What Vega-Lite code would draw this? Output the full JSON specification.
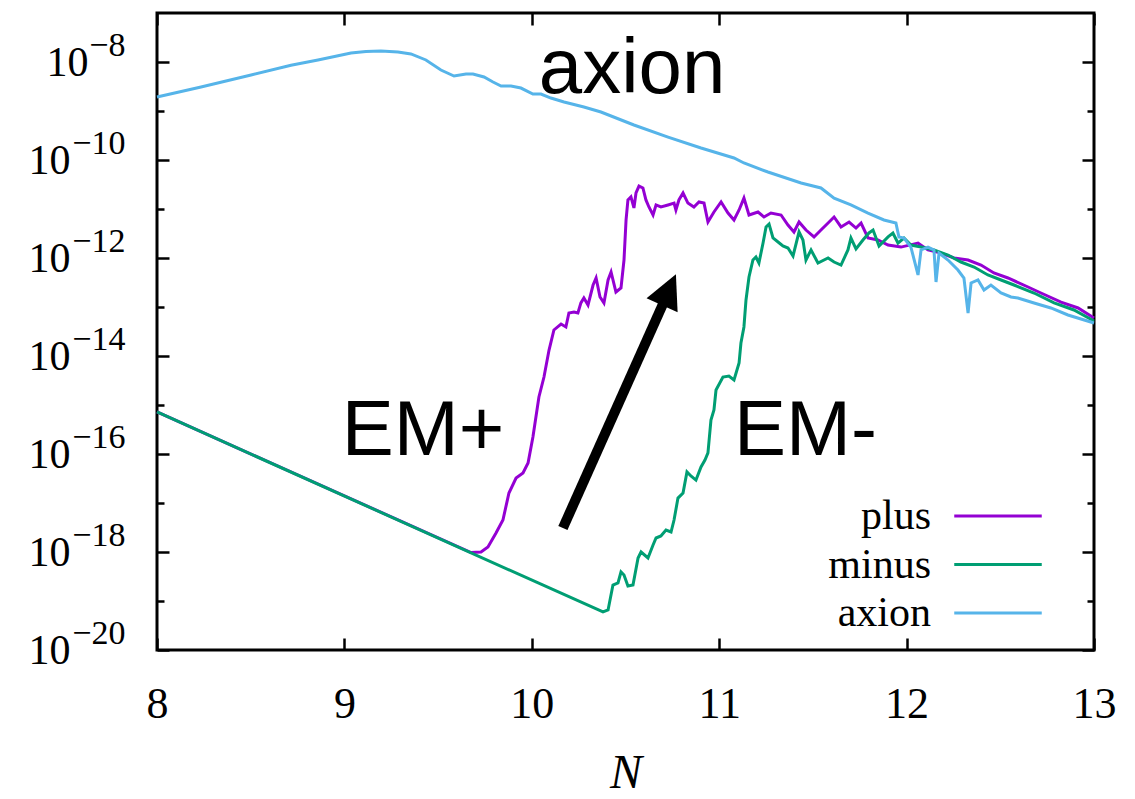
{
  "$schema": "https://vega.github.io/schema/vega-lite/v6.json",
  "width": 937,
  "height": 637,
  "autosize": {"type": "none"},
  "padding": {"left": 157, "top": 13, "right": 41, "bottom": 149},
  "background": "white",
  "config": {
    "view": {"stroke": "black", "strokeWidth": 3},
    "axis": {"grid": false, "domain": false, "labelFont": "Liberation Serif, Times New Roman, DejaVu Serif, serif", "labelColor": "black", "tickColor": "black", "tickWidth": 2.5, "titleFont": "Liberation Serif, Times New Roman, DejaVu Serif, serif", "titleColor": "black", "labelFlush": false, "labelOverlap": false}
  },
  "datasets": {
    "curves": [
      {"s": "plus", "N": 8.0, "v": 7.2e-16},
      {"s": "plus", "N": 9.676, "v": 9.73e-19},
      {"s": "plus", "N": 9.729, "v": 1.0e-18},
      {"s": "plus", "N": 9.766, "v": 1.26e-18},
      {"s": "plus", "N": 9.809, "v": 2.44e-18},
      {"s": "plus", "N": 9.846, "v": 4.5e-18},
      {"s": "plus", "N": 9.878, "v": 1.6e-17},
      {"s": "plus", "N": 9.916, "v": 3.24e-17},
      {"s": "plus", "N": 9.953, "v": 4.09e-17},
      {"s": "plus", "N": 9.98, "v": 6.55e-17},
      {"s": "plus", "N": 10.006, "v": 2.22e-16},
      {"s": "plus", "N": 10.038, "v": 1.46e-15},
      {"s": "plus", "N": 10.065, "v": 3.72e-15},
      {"s": "plus", "N": 10.092, "v": 1.32e-14},
      {"s": "plus", "N": 10.118, "v": 3.4e-14},
      {"s": "plus", "N": 10.156, "v": 4.5e-14},
      {"s": "plus", "N": 10.182, "v": 3.91e-14},
      {"s": "plus", "N": 10.198, "v": 7.55e-14},
      {"s": "plus", "N": 10.225, "v": 7.91e-14},
      {"s": "plus", "N": 10.246, "v": 7.55e-14},
      {"s": "plus", "N": 10.262, "v": 1.21e-13},
      {"s": "plus", "N": 10.278, "v": 1.53e-13},
      {"s": "plus", "N": 10.3, "v": 1.1e-13},
      {"s": "plus", "N": 10.327, "v": 2.81e-13},
      {"s": "plus", "N": 10.343, "v": 3.91e-13},
      {"s": "plus", "N": 10.364, "v": 1.6e-13},
      {"s": "plus", "N": 10.385, "v": 1.21e-13},
      {"s": "plus", "N": 10.407, "v": 3.56e-13},
      {"s": "plus", "N": 10.423, "v": 5.18e-13},
      {"s": "plus", "N": 10.449, "v": 2.02e-13},
      {"s": "plus", "N": 10.476, "v": 2.44e-13},
      {"s": "plus", "N": 10.492, "v": 9.1e-13},
      {"s": "plus", "N": 10.503, "v": 5.97e-12},
      {"s": "plus", "N": 10.513, "v": 1.53e-11},
      {"s": "plus", "N": 10.529, "v": 1.76e-11},
      {"s": "plus", "N": 10.545, "v": 1.05e-11},
      {"s": "plus", "N": 10.556, "v": 2.12e-11},
      {"s": "plus", "N": 10.572, "v": 2.94e-11},
      {"s": "plus", "N": 10.593, "v": 2.69e-11},
      {"s": "plus", "N": 10.609, "v": 1.53e-11},
      {"s": "plus", "N": 10.625, "v": 1.1e-11},
      {"s": "plus", "N": 10.647, "v": 7.55e-12},
      {"s": "plus", "N": 10.663, "v": 1.21e-11},
      {"s": "plus", "N": 10.689, "v": 1.1e-11},
      {"s": "plus", "N": 10.727, "v": 1.21e-11},
      {"s": "plus", "N": 10.759, "v": 1.32e-11},
      {"s": "plus", "N": 10.769, "v": 9.55e-12},
      {"s": "plus", "N": 10.785, "v": 1.53e-11},
      {"s": "plus", "N": 10.807, "v": 2.12e-11},
      {"s": "plus", "N": 10.833, "v": 1.32e-11},
      {"s": "plus", "N": 10.865, "v": 1.1e-11},
      {"s": "plus", "N": 10.892, "v": 1.39e-11},
      {"s": "plus", "N": 10.919, "v": 1.32e-11},
      {"s": "plus", "N": 10.94, "v": 5.43e-12},
      {"s": "plus", "N": 10.972, "v": 8.69e-12},
      {"s": "plus", "N": 11.01, "v": 1.39e-11},
      {"s": "plus", "N": 11.047, "v": 8.28e-12},
      {"s": "plus", "N": 11.079, "v": 5.97e-12},
      {"s": "plus", "N": 11.106, "v": 9.55e-12},
      {"s": "plus", "N": 11.132, "v": 1.67e-11},
      {"s": "plus", "N": 11.159, "v": 7.55e-12},
      {"s": "plus", "N": 11.207, "v": 8.69e-12},
      {"s": "plus", "N": 11.239, "v": 6.87e-12},
      {"s": "plus", "N": 11.276, "v": 8.28e-12},
      {"s": "plus", "N": 11.33, "v": 7.55e-12},
      {"s": "plus", "N": 11.367, "v": 4.71e-12},
      {"s": "plus", "N": 11.399, "v": 3.4e-12},
      {"s": "plus", "N": 11.426, "v": 5.43e-12},
      {"s": "plus", "N": 11.463, "v": 3.72e-12},
      {"s": "plus", "N": 11.506, "v": 2.69e-12},
      {"s": "plus", "N": 11.543, "v": 3.72e-12},
      {"s": "plus", "N": 11.581, "v": 5.18e-12},
      {"s": "plus", "N": 11.613, "v": 6.87e-12},
      {"s": "plus", "N": 11.65, "v": 4.3e-12},
      {"s": "plus", "N": 11.693, "v": 5.43e-12},
      {"s": "plus", "N": 11.73, "v": 4.09e-12},
      {"s": "plus", "N": 11.757, "v": 5.18e-12},
      {"s": "plus", "N": 11.794, "v": 2.56e-12},
      {"s": "plus", "N": 11.847, "v": 2.33e-12},
      {"s": "plus", "N": 11.901, "v": 1.84e-12},
      {"s": "plus", "N": 11.97, "v": 1.67e-12},
      {"s": "plus", "N": 12.061, "v": 2.02e-12},
      {"s": "plus", "N": 12.114, "v": 1.46e-12},
      {"s": "plus", "N": 12.184, "v": 1.26e-12},
      {"s": "plus", "N": 12.253, "v": 1.0e-12},
      {"s": "plus", "N": 12.328, "v": 9.1e-13},
      {"s": "plus", "N": 12.397, "v": 7.19e-13},
      {"s": "plus", "N": 12.466, "v": 4.94e-13},
      {"s": "plus", "N": 12.541, "v": 3.91e-13},
      {"s": "plus", "N": 12.648, "v": 2.56e-13},
      {"s": "plus", "N": 12.717, "v": 1.93e-13},
      {"s": "plus", "N": 12.824, "v": 1.26e-13},
      {"s": "plus", "N": 12.915, "v": 9.55e-14},
      {"s": "plus", "N": 13.0, "v": 5.97e-14},
      {"s": "minus", "N": 8.0, "v": 7.2e-16},
      {"s": "minus", "N": 10.38, "v": 5.97e-20},
      {"s": "minus", "N": 10.407, "v": 6.55e-20},
      {"s": "minus", "N": 10.433, "v": 2.12e-19},
      {"s": "minus", "N": 10.46, "v": 2.33e-19},
      {"s": "minus", "N": 10.476, "v": 3.91e-19},
      {"s": "minus", "N": 10.492, "v": 3.4e-19},
      {"s": "minus", "N": 10.513, "v": 2.02e-19},
      {"s": "minus", "N": 10.54, "v": 2.12e-19},
      {"s": "minus", "N": 10.567, "v": 7.55e-19},
      {"s": "minus", "N": 10.583, "v": 1.0e-18},
      {"s": "minus", "N": 10.62, "v": 7.55e-19},
      {"s": "minus", "N": 10.647, "v": 1.39e-18},
      {"s": "minus", "N": 10.663, "v": 1.93e-18},
      {"s": "minus", "N": 10.689, "v": 2.12e-18},
      {"s": "minus", "N": 10.716, "v": 2.81e-18},
      {"s": "minus", "N": 10.743, "v": 2.56e-18},
      {"s": "minus", "N": 10.759, "v": 4.5e-18},
      {"s": "minus", "N": 10.78, "v": 1.26e-17},
      {"s": "minus", "N": 10.807, "v": 1.6e-17},
      {"s": "minus", "N": 10.828, "v": 4.3e-17},
      {"s": "minus", "N": 10.849, "v": 3.56e-17},
      {"s": "minus", "N": 10.876, "v": 2.94e-17},
      {"s": "minus", "N": 10.903, "v": 5.43e-17},
      {"s": "minus", "N": 10.924, "v": 7.55e-17},
      {"s": "minus", "N": 10.94, "v": 1.05e-16},
      {"s": "minus", "N": 10.956, "v": 4.94e-16},
      {"s": "minus", "N": 10.972, "v": 7.91e-16},
      {"s": "minus", "N": 10.983, "v": 2.02e-15},
      {"s": "minus", "N": 11.02, "v": 3.72e-15},
      {"s": "minus", "N": 11.052, "v": 3.91e-15},
      {"s": "minus", "N": 11.079, "v": 3.24e-15},
      {"s": "minus", "N": 11.106, "v": 7.19e-15},
      {"s": "minus", "N": 11.116, "v": 1.84e-14},
      {"s": "minus", "N": 11.132, "v": 3.91e-14},
      {"s": "minus", "N": 11.143, "v": 1.39e-13},
      {"s": "minus", "N": 11.159, "v": 4.09e-13},
      {"s": "minus", "N": 11.18, "v": 9.1e-13},
      {"s": "minus", "N": 11.196, "v": 1.05e-12},
      {"s": "minus", "N": 11.212, "v": 7.91e-13},
      {"s": "minus", "N": 11.234, "v": 2.02e-12},
      {"s": "minus", "N": 11.25, "v": 4.3e-12},
      {"s": "minus", "N": 11.266, "v": 4.94e-12},
      {"s": "minus", "N": 11.287, "v": 2.56e-12},
      {"s": "minus", "N": 11.314, "v": 2.12e-12},
      {"s": "minus", "N": 11.34, "v": 1.76e-12},
      {"s": "minus", "N": 11.367, "v": 1.6e-12},
      {"s": "minus", "N": 11.394, "v": 1.1e-12},
      {"s": "minus", "N": 11.426, "v": 3.4e-12},
      {"s": "minus", "N": 11.447, "v": 2.33e-12},
      {"s": "minus", "N": 11.463, "v": 9.1e-13},
      {"s": "minus", "N": 11.49, "v": 1.46e-12},
      {"s": "minus", "N": 11.527, "v": 7.91e-13},
      {"s": "minus", "N": 11.581, "v": 1.0e-12},
      {"s": "minus", "N": 11.613, "v": 8.28e-13},
      {"s": "minus", "N": 11.65, "v": 7.19e-13},
      {"s": "minus", "N": 11.687, "v": 1.46e-12},
      {"s": "minus", "N": 11.703, "v": 2.56e-12},
      {"s": "minus", "N": 11.73, "v": 1.53e-12},
      {"s": "minus", "N": 11.767, "v": 2.33e-12},
      {"s": "minus", "N": 11.799, "v": 3.24e-12},
      {"s": "minus", "N": 11.821, "v": 3.72e-12},
      {"s": "minus", "N": 11.853, "v": 1.76e-12},
      {"s": "minus", "N": 11.901, "v": 2.69e-12},
      {"s": "minus", "N": 11.927, "v": 3.24e-12},
      {"s": "minus", "N": 11.954, "v": 2.02e-12},
      {"s": "minus", "N": 11.986, "v": 2.56e-12},
      {"s": "minus", "N": 12.023, "v": 1.84e-12},
      {"s": "minus", "N": 12.077, "v": 1.67e-12},
      {"s": "minus", "N": 12.146, "v": 1.46e-12},
      {"s": "minus", "N": 12.221, "v": 1.15e-12},
      {"s": "minus", "N": 12.29, "v": 8.28e-13},
      {"s": "minus", "N": 12.36, "v": 6.55e-13},
      {"s": "minus", "N": 12.434, "v": 4.5e-13},
      {"s": "minus", "N": 12.504, "v": 3.56e-13},
      {"s": "minus", "N": 12.573, "v": 2.81e-13},
      {"s": "minus", "N": 12.68, "v": 1.93e-13},
      {"s": "minus", "N": 12.787, "v": 1.21e-13},
      {"s": "minus", "N": 12.893, "v": 8.69e-14},
      {"s": "minus", "N": 13.0, "v": 5.18e-14},
      {"s": "axion", "N": 8.0, "v": 1.93e-9},
      {"s": "axion", "N": 8.235, "v": 3.09e-9},
      {"s": "axion", "N": 8.502, "v": 5.43e-9},
      {"s": "axion", "N": 8.715, "v": 8.6e-9},
      {"s": "axion", "N": 8.859, "v": 1.1e-8},
      {"s": "axion", "N": 8.96, "v": 1.33e-8},
      {"s": "axion", "N": 9.035, "v": 1.53e-8},
      {"s": "axion", "N": 9.115, "v": 1.64e-8},
      {"s": "axion", "N": 9.195, "v": 1.67e-8},
      {"s": "axion", "N": 9.286, "v": 1.6e-8},
      {"s": "axion", "N": 9.355, "v": 1.46e-8},
      {"s": "axion", "N": 9.435, "v": 1.1e-8},
      {"s": "axion", "N": 9.515, "v": 6.87e-9},
      {"s": "axion", "N": 9.585, "v": 5.18e-9},
      {"s": "axion", "N": 9.649, "v": 5.69e-9},
      {"s": "axion", "N": 9.686, "v": 5.69e-9},
      {"s": "axion", "N": 9.745, "v": 4.94e-9},
      {"s": "axion", "N": 9.793, "v": 3.91e-9},
      {"s": "axion", "N": 9.836, "v": 3.24e-9},
      {"s": "axion", "N": 9.889, "v": 3.24e-9},
      {"s": "axion", "N": 9.942, "v": 2.94e-9},
      {"s": "axion", "N": 10.006, "v": 2.22e-9},
      {"s": "axion", "N": 10.049, "v": 2.22e-9},
      {"s": "axion", "N": 10.102, "v": 1.84e-9},
      {"s": "axion", "N": 10.172, "v": 1.53e-9},
      {"s": "axion", "N": 10.278, "v": 1.21e-9},
      {"s": "axion", "N": 10.369, "v": 9.55e-10},
      {"s": "axion", "N": 10.545, "v": 5.18e-10},
      {"s": "axion", "N": 10.727, "v": 2.94e-10},
      {"s": "axion", "N": 10.903, "v": 1.76e-10},
      {"s": "axion", "N": 11.079, "v": 1.1e-10},
      {"s": "axion", "N": 11.132, "v": 8.69e-11},
      {"s": "axion", "N": 11.26, "v": 5.69e-11},
      {"s": "axion", "N": 11.437, "v": 3.4e-11},
      {"s": "axion", "N": 11.543, "v": 2.69e-11},
      {"s": "axion", "N": 11.613, "v": 1.67e-11},
      {"s": "axion", "N": 11.703, "v": 1.21e-11},
      {"s": "axion", "N": 11.794, "v": 8.28e-12},
      {"s": "axion", "N": 11.879, "v": 5.97e-12},
      {"s": "axion", "N": 11.943, "v": 5.18e-12},
      {"s": "axion", "N": 11.959, "v": 2.69e-12},
      {"s": "axion", "N": 11.986, "v": 2.56e-12},
      {"s": "axion", "N": 12.023, "v": 1.67e-12},
      {"s": "axion", "N": 12.061, "v": 4.5e-13},
      {"s": "axion", "N": 12.077, "v": 1.46e-12},
      {"s": "axion", "N": 12.114, "v": 1.67e-12},
      {"s": "axion", "N": 12.146, "v": 1.46e-12},
      {"s": "axion", "N": 12.157, "v": 3.24e-13},
      {"s": "axion", "N": 12.173, "v": 1.26e-12},
      {"s": "axion", "N": 12.221, "v": 9.1e-13},
      {"s": "axion", "N": 12.274, "v": 5.69e-13},
      {"s": "axion", "N": 12.306, "v": 3.91e-13},
      {"s": "axion", "N": 12.328, "v": 7.55e-14},
      {"s": "axion", "N": 12.344, "v": 3.09e-13},
      {"s": "axion", "N": 12.381, "v": 3.56e-13},
      {"s": "axion", "N": 12.413, "v": 2.22e-13},
      {"s": "axion", "N": 12.45, "v": 2.81e-13},
      {"s": "axion", "N": 12.504, "v": 1.93e-13},
      {"s": "axion", "N": 12.557, "v": 1.6e-13},
      {"s": "axion", "N": 12.594, "v": 1.53e-13},
      {"s": "axion", "N": 12.68, "v": 1.21e-13},
      {"s": "axion", "N": 12.77, "v": 9.55e-14},
      {"s": "axion", "N": 12.861, "v": 6.87e-14},
      {"s": "axion", "N": 13.0, "v": 4.71e-14}
    ],
    "notes": [
      {"t": "axion", "N": 10.535, "v": 2.33e-9},
      {"t": "EM+", "N": 9.42, "v": 9.55e-17},
      {"t": "EM-", "N": 11.46, "v": 9.55e-17}
    ],
    "shaft": [
      {"N": 10.166, "v": 3.09e-18},
      {"N": 10.716, "v": 1.58e-13}
    ],
    "head": [
      {"N": 10.769, "v": 4.68e-13}
    ]
  },
  "layer": [
    {
      "data": {"name": "curves"},
      "mark": {"type": "line", "strokeWidth": 3},
      "encoding": {
        "x": {"field": "N", "type": "quantitative",
          "scale": {"domain": [8, 13], "nice": false, "zero": false},
          "axis": {"orient": "bottom", "values": [8, 9, 10, 11, 12, 13], "ticks": false, "labelFontSize": 44, "labelBaseline": "alphabetic", "labelPadding": 67,
            "title": "N", "titleFontStyle": "italic", "titleFontWeight": "normal", "titleFontSize": 48, "titleX": 468.5, "titleY": 137, "titleBaseline": "alphabetic", "titleAlign": "center", "titleAnchor": null}},
        "y": {"field": "v", "type": "quantitative",
          "scale": {"type": "log", "domain": [1e-20, 1e-7], "nice": false},
          "axis": {"orient": "left", "values": [1e-20, 1e-18, 1e-16, 1e-14, 1e-12, 1e-10, 1e-8], "ticks": false, "labelExpr": "'10'", "labelFontSize": 42, "labelAlign": "right", "labelBaseline": "middle",
            "labelPadding": {"condition": {"test": "datum.value > 1e-9", "value": 69}, "value": 87}, "title": null}},
        "color": {"field": "s", "type": "nominal",
          "scale": {"domain": ["plus", "minus", "axion"], "range": ["#9400D3", "#009E73", "#56B4E9"]},
          "legend": {"orient": "none", "legendX": 820, "legendY": 482, "title": null, "symbolType": "M-2.5,0H2.5", "symbolSize": 1225, "symbolStrokeWidth": 3, "labelAlign": "right", "labelOffset": -88, "labelFont": "Liberation Serif, Times New Roman, DejaVu Serif, serif", "labelFontSize": 42, "labelColor": "black", "rowPadding": 6.5, "padding": 0}}
      }
    },
    {
      "data": {"name": "notes"},
      "mark": {"type": "text", "font": "Liberation Sans", "fontSize": 78, "align": "center", "baseline": "alphabetic", "color": "black"},
      "encoding": {
        "x": {"field": "N", "type": "quantitative",
          "axis": {"orient": "bottom", "values": [8, 9, 10, 11, 12, 13], "labels": false, "tickSize": -12, "title": null}},
        "y": {"field": "v", "type": "quantitative",
          "axis": {"orient": "left", "values": [1e-20, 1e-18, 1e-16, 1e-14, 1e-12, 1e-10, 1e-8], "ticks": false, "labelExpr": "'\u2212' + round(-log(datum.value)/LN10)", "labelFontSize": 34, "labelAlign": "right", "labelBaseline": "middle", "labelPadding": 32, "labelOffset": -17, "title": null}},
        "text": {"field": "t"}
      }
    },
    {
      "data": {"name": "shaft"},
      "mark": {"type": "line", "color": "black", "strokeWidth": 10, "strokeCap": "butt"},
      "encoding": {
        "x": {"field": "N", "type": "quantitative",
          "axis": {"orient": "top", "values": [8, 9, 10, 11, 12, 13], "labels": false, "tickSize": -12, "title": null}},
        "y": {"field": "v", "type": "quantitative",
          "axis": {"orient": "left", "values": [1e-20, 1e-19, 1e-18, 1e-17, 1e-16, 1e-15, 1e-14, 1e-13, 1e-12, 1e-11, 1e-10, 1e-9, 1e-8], "labels": false,
            "tickSize": {"condition": {"test": "abs(round(log(datum.value)/LN10)) % 2 == 0", "value": -12}, "value": -7}, "title": null}}
      }
    },
    {
      "data": {"name": "head"},
      "mark": {"type": "point", "shape": "M0,0L-1,2L1,2Z", "size": 1156, "angle": 24, "filled": true, "color": "black", "opacity": 1},
      "encoding": {
        "x": {"field": "N", "type": "quantitative", "axis": null},
        "y": {"field": "v", "type": "quantitative",
          "axis": {"orient": "right", "values": [1e-20, 1e-19, 1e-18, 1e-17, 1e-16, 1e-15, 1e-14, 1e-13, 1e-12, 1e-11, 1e-10, 1e-9, 1e-8], "labels": false,
            "tickSize": {"condition": {"test": "abs(round(log(datum.value)/LN10)) % 2 == 0", "value": -12}, "value": -7}, "title": null}}
      }
    }
  ],
  "resolve": {"axis": {"x": "independent", "y": "independent"}}
}
